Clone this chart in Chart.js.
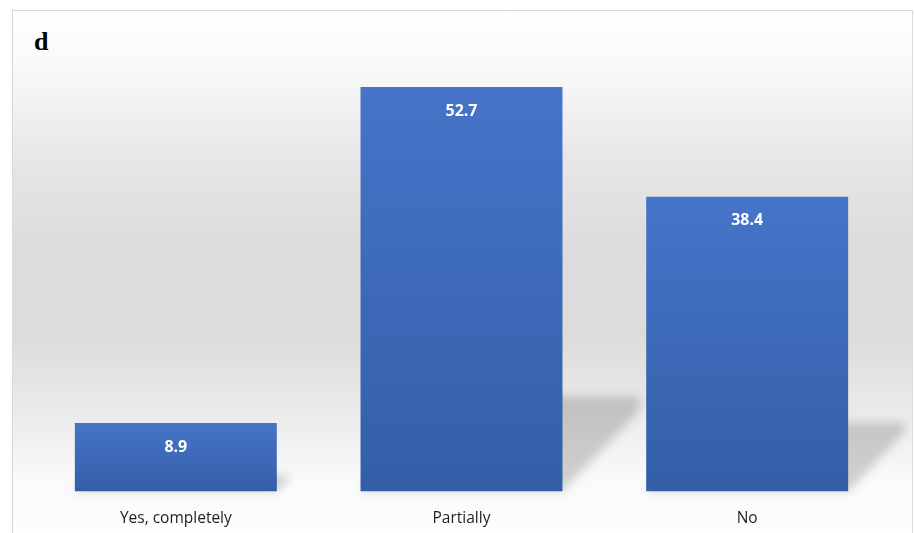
<!DOCTYPE html>
<html>
<head>
<meta charset="utf-8">
<script src="https://cdn.jsdelivr.net/npm/chart.js@4.4.1/dist/chart.umd.min.js"></script>
<style>
  body { margin: 0; background: #ffffff; width: 914px; height: 533px; overflow: hidden; }
  #box {
    position: absolute; left: 12px; top: 10px; width: 899px; height: 560px;
    border: 1px solid #d9d9d9;
    background: linear-gradient(to bottom, #ffffff 0%, #f7f7f7 12%, #e6e6e6 27%, #dcdcdc 42%, #dcdcdc 58%, #ebebeb 72%, #fafafa 84%, #ffffff 100%);
  }
  #tag {
    position: absolute; left: 21px; top: 16px;
    font: bold 26px "Liberation Serif", "Times New Roman", serif; color: #000;
  }
  canvas { position: absolute; left: 0; top: 0; }
</style>
</head>
<body>
<div id="box">
  <div id="tag">d</div>
  <canvas id="myChart" width="899" height="545"></canvas>
</div>
<script>
const categories = ["Yes, completely", "Partially", "No"];
const values = [8.9, 52.7, 38.4];

function barGradient(ctx) {
    const chart = ctx.chart;
    if (!chart.chartArea || !chart.scales.y) return "#4070c0";
    const y = chart.scales.y;
    const top = y.getPixelForValue(values[ctx.dataIndex]);
    const base = y.getPixelForValue(0);
    const g = chart.ctx.createLinearGradient(0, top, 0, base);
    g.addColorStop(0, "#4674c8");
    g.addColorStop(1, "#335ea8");
    return g;
}

const barShadow = {
    id: "barShadow",
    beforeDatasetsDraw(chart) {
        const c = chart.ctx;
        c.save();
        c.filter = "blur(5px)";
        c.fillStyle = "rgba(0,0,0,0.17)";
        chart.getDatasetMeta(0).data.forEach(bar => {
            const h = bar.base - bar.y;
            const l = bar.x - bar.width / 2, r = bar.x + bar.width / 2;
            const dx = h * 0.19, dy = h * 0.235;
            c.beginPath();
            c.moveTo(l, bar.base);
            c.lineTo(r, bar.base);
            c.lineTo(r + dx, bar.base - dy * 0.85);
            c.lineTo(r + dx, bar.base - dy);
            c.lineTo(l + dx, bar.base - dy);
            c.closePath();
            c.fill();
        });
        c.restore();
    }
};

const barLabels = {
    id: "barLabels",
    afterDatasetsDraw(chart) {
        const c = chart.ctx;
        c.save();
        c.font = "bold 16px 'Open Sans', sans-serif";
        c.fillStyle = "#ffffff";
        c.textAlign = "center";
        c.textBaseline = "middle";
        chart.getDatasetMeta(0).data.forEach((bar, i) => {
            c.fillText(values[i].toFixed(1), bar.x, bar.y + 24);
        });
        c.restore();
    }
};

new Chart("myChart", {
    type: "bar",
    data: {
        labels: categories,
        datasets: [{
            data: values,
            backgroundColor: barGradient,
            borderWidth: 0,
            categoryPercentage: 1,
            barPercentage: 0.707
        }]
    },
    options: {
        responsive: false,
        animation: false,
        layout: { padding: { left: 20, right: 22, top: 20, bottom: 10 } },
        plugins: {
            legend: { display: false },
            tooltip: { enabled: false }
        },
        scales: {
            y: { display: false, min: 0, max: 60 },
            x: {
                grid: { display: false, drawTicks: false },
                border: { display: false },
                ticks: {
                    padding: 18,
                    color: "#1f1f1f",
                    font: { family: "'Open Sans', sans-serif", size: 15.5 }
                }
            }
        }
    },
    plugins: [barShadow, barLabels]
});
</script>
</body>
</html>
